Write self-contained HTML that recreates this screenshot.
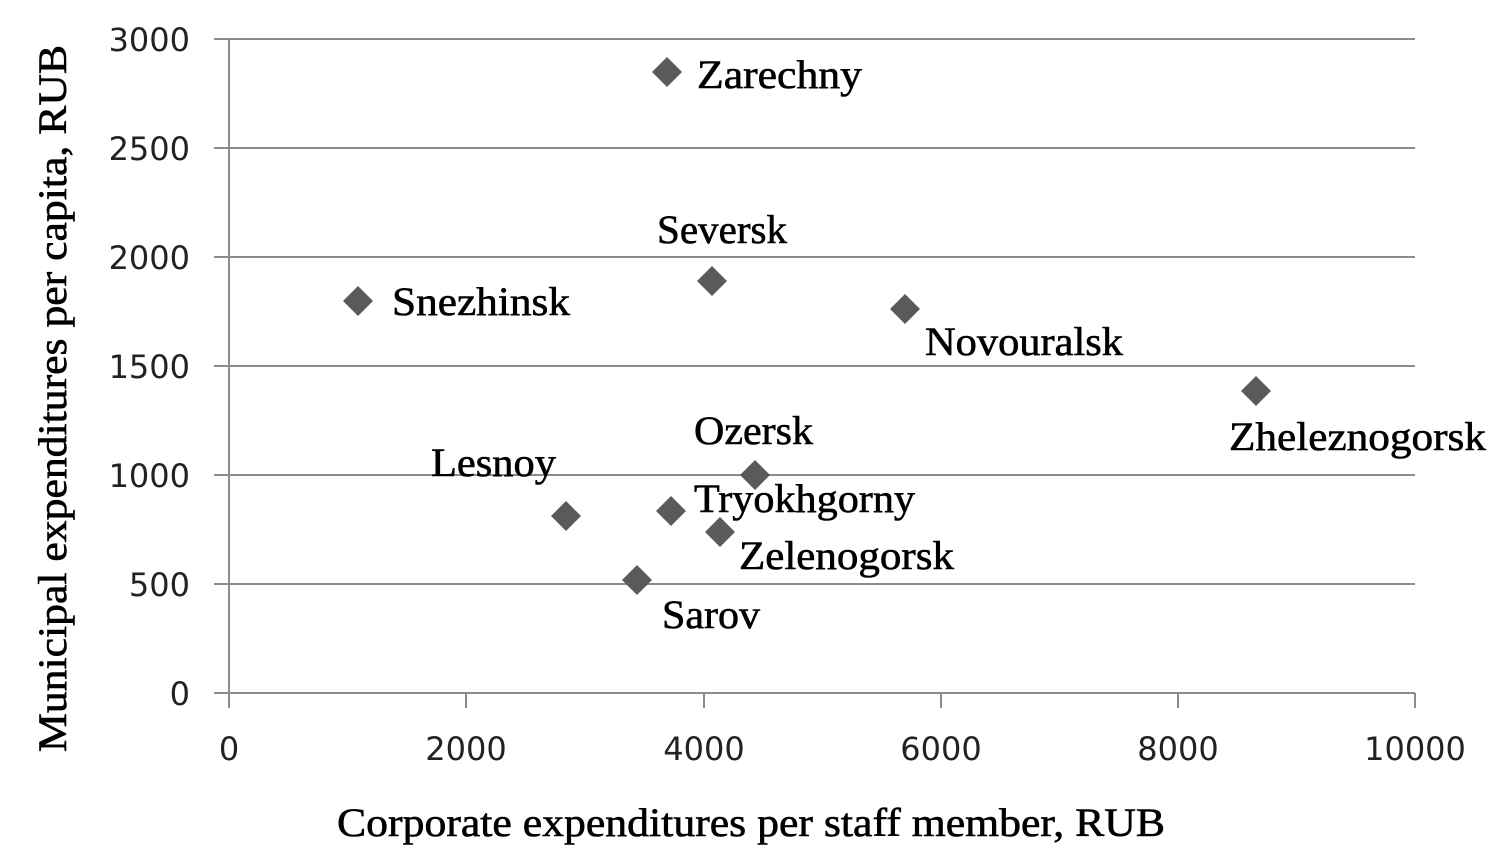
<!DOCTYPE html>
<html><head><meta charset="utf-8"><style>body{margin:0;background:#fff}svg{display:block}</style></head>
<body>
<svg width="1506" height="864" xmlns="http://www.w3.org/2000/svg">
<g stroke="#8c8c8c" stroke-width="2">
<line x1="214" y1="39" x2="1415" y2="39"/>
<line x1="214" y1="148" x2="1415" y2="148"/>
<line x1="214" y1="257" x2="1415" y2="257"/>
<line x1="214" y1="366" x2="1415" y2="366"/>
<line x1="214" y1="475" x2="1415" y2="475"/>
<line x1="214" y1="584" x2="1415" y2="584"/>
<line x1="214" y1="693" x2="1415" y2="693"/>
<line x1="229" y1="39" x2="229" y2="708"/>
<line x1="466" y1="693" x2="466" y2="708"/>
<line x1="704" y1="693" x2="704" y2="708"/>
<line x1="941" y1="693" x2="941" y2="708"/>
<line x1="1178" y1="693" x2="1178" y2="708"/>
<line x1="1415" y1="693" x2="1415" y2="708"/>
</g>
<g font-family="DejaVu Sans, sans-serif" font-size="32" fill="#222" text-anchor="end">
<text x="190" y="51">3000</text><text x="190" y="160">2500</text><text x="190" y="269">2000</text>
<text x="190" y="378">1500</text><text x="190" y="487">1000</text><text x="190" y="596">500</text><text x="190" y="705">0</text>
</g>
<g font-family="DejaVu Sans, sans-serif" font-size="32" fill="#222" text-anchor="middle">
<text x="229" y="760">0</text><text x="466" y="760">2000</text><text x="704" y="760">4000</text>
<text x="941" y="760">6000</text><text x="1178" y="760">8000</text><text x="1415" y="760">10000</text>
</g>
<g fill="#5a5a5a">
<path d="M667 57 l15 15 -15 15 -15 -15z"/>
<path d="M712 266 l15 15 -15 15 -15 -15z"/>
<path d="M358 286 l15 15 -15 15 -15 -15z"/>
<path d="M905 294 l15 15 -15 15 -15 -15z"/>
<path d="M1256 376 l15 15 -15 15 -15 -15z"/>
<path d="M755 460 l15 15 -15 15 -15 -15z"/>
<path d="M566 501 l15 15 -15 15 -15 -15z"/>
<path d="M671 496 l15 15 -15 15 -15 -15z"/>
<path d="M720 517 l15 15 -15 15 -15 -15z"/>
<path d="M637 565 l15 15 -15 15 -15 -15z"/>
</g>
<g font-family="Liberation Serif, serif" font-size="40" fill="#000" stroke="#000" stroke-width="0.6" lengthAdjust="spacingAndGlyphs">
<text x="697" y="88" textLength="165" lengthAdjust="spacingAndGlyphs">Zarechny</text>
<text x="657" y="243" textLength="130" lengthAdjust="spacingAndGlyphs">Seversk</text>
<text x="392" y="315" textLength="178" lengthAdjust="spacingAndGlyphs">Snezhinsk</text>
<text x="925" y="355" textLength="198" lengthAdjust="spacingAndGlyphs">Novouralsk</text>
<text x="1229" y="450" textLength="257" lengthAdjust="spacingAndGlyphs">Zheleznogorsk</text>
<text x="694" y="444" textLength="119" lengthAdjust="spacingAndGlyphs">Ozersk</text>
<text x="431" y="476" textLength="125" lengthAdjust="spacingAndGlyphs">Lesnoy</text>
<text x="694" y="512" textLength="221" lengthAdjust="spacingAndGlyphs">Tryokhgorny</text>
<text x="739" y="569" textLength="215" lengthAdjust="spacingAndGlyphs">Zelenogorsk</text>
<text x="662" y="628" textLength="98" lengthAdjust="spacingAndGlyphs">Sarov</text>
<text x="337" y="836" textLength="828" lengthAdjust="spacingAndGlyphs">Corporate expenditures per staff member, RUB</text>
<text transform="translate(66,752) rotate(-90)" textLength="707" lengthAdjust="spacingAndGlyphs">Municipal expenditures per capita, RUB</text>
</g>
</svg>
</body></html>
